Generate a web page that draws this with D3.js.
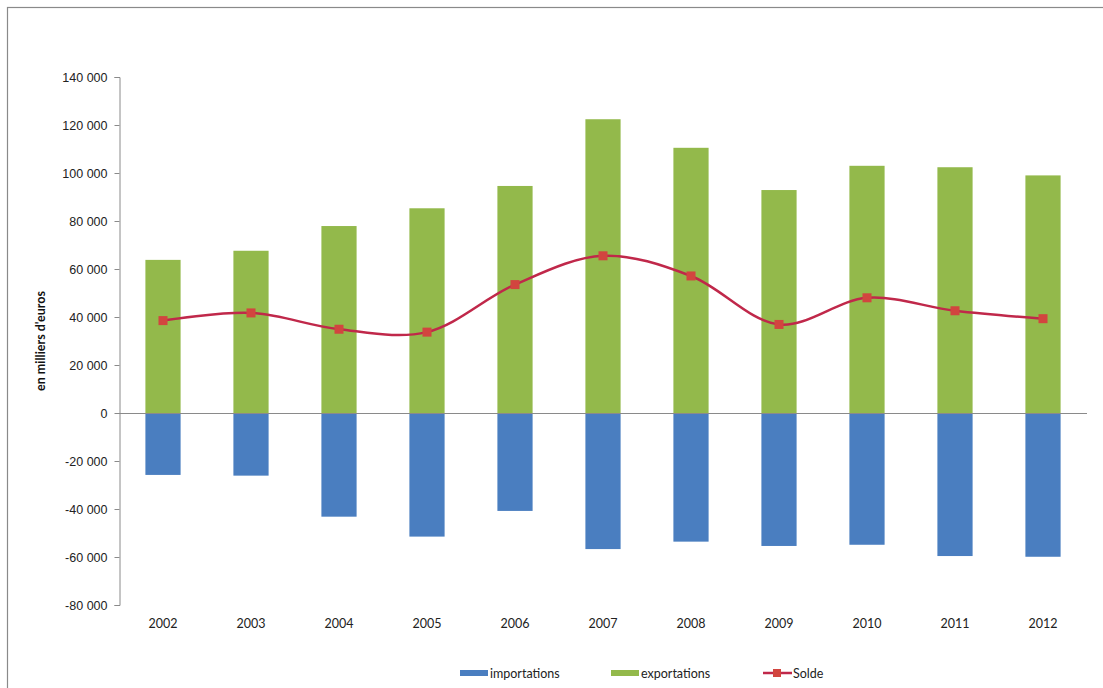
<!DOCTYPE html>
<html>
<head>
<meta charset="utf-8">
<script src="https://cdn.jsdelivr.net/npm/d3@7"></script>
<style>
  body { margin: 0; background: #fff; }
  svg { display: block; font-family: Lato, "Open Sans", sans-serif; }
</style>
</head>
<body>
<svg id="chart" width="1103" height="688"></svg>
<script>
const years = ["2002","2003","2004","2005","2006","2007","2008","2009","2010","2011","2012"];
const importations = [-25800, -26100, -43200, -51500, -40800, -56700, -53600, -55400, -54900, -59600, -59900];
const exportations = [63800, 67600, 77900, 85300, 94600, 122400, 110500, 92900, 103000, 102400, 99000];
const solde = [38500, 41700, 34900, 33700, 53500, 65500, 57100, 36900, 48000, 42600, 39300];
const yTicks = [-80000, -60000, -40000, -20000, 0, 20000, 40000, 60000, 80000, 100000, 120000, 140000];
const seriesNames = ["importations", "exportations", "Solde"];

const colors = { imp: "#4a7ec0", exp: "#93b94b", line: "#c0284a", marker: "#d2453f" };

const svg = d3.select("#chart");
const mLeft = 119, mRight = 1087, mTop = 77, mBottom = 605;

// frame
svg.append("rect").attr("x", 7.5).attr("y", 7.5).attr("width", 1110).attr("height", 700)
  .attr("fill", "#fff").attr("stroke", "#8a8a8a").attr("stroke-width", 1.2);

const x = d3.scaleBand().domain(years).range([mLeft, mRight]).paddingInner(0.6).paddingOuter(0.3);
const y = d3.scaleLinear().domain([-80000, 140000]).range([mBottom, mTop]);

const fmt = v => d3.format(",")(v).replace(/,/g, " ").replace("−", "-");

// y axis
const yAxis = d3.axisLeft(y).tickValues(yTicks).tickSize(5).tickPadding(7).tickFormat(fmt);
const gy = svg.append("g").attr("transform", `translate(${mLeft + 0.5},0)`).call(yAxis);
gy.select(".domain").attr("stroke", "#8a8a8a");
gy.selectAll(".tick line").attr("stroke", "#8a8a8a");
gy.selectAll(".tick text").attr("font-size", 12.5).attr("fill", "#222");

// y title
svg.append("text").attr("transform", `translate(45,${(mTop + mBottom) / 2}) rotate(-90)`)
  .attr("text-anchor", "middle").attr("font-size", 12.5).attr("font-weight", "bold").attr("fill", "#111")
  .text("en milliers d'euros");

// bars
svg.append("g").selectAll("rect").data(years).join("rect")
  .attr("x", d => x(d)).attr("width", x.bandwidth())
  .attr("y", (d, i) => y(exportations[i])).attr("height", (d, i) => y(0) - y(exportations[i]))
  .attr("fill", colors.exp);
svg.append("g").selectAll("rect").data(years).join("rect")
  .attr("x", d => x(d)).attr("width", x.bandwidth())
  .attr("y", y(0)).attr("height", (d, i) => y(importations[i]) - y(0))
  .attr("fill", colors.imp);

// zero line / x axis
const xAxis = d3.axisBottom(x).tickSize(0).tickPadding(0);
const gx = svg.append("g").attr("transform", `translate(0,${Math.round(y(0)) + 0.5})`).call(xAxis);
gx.select(".domain").attr("stroke", "#8a8a8a").attr("d", `M${mLeft},0H${mRight}`);
gx.selectAll(".tick text").remove();

// year labels along bottom
svg.append("g").selectAll("text").data(years).join("text")
  .attr("x", d => x(d) + x.bandwidth() / 2).attr("y", 628)
  .attr("text-anchor", "middle").attr("font-size", 12.5).attr("fill", "#222")
  .text(d => d);

// solde line
const pts = years.map((d, i) => [x(d) + x.bandwidth() / 2, y(solde[i])]);
svg.append("path").datum(pts)
  .attr("d", d3.line().curve(d3.curveCatmullRom.alpha(0.5)))
  .attr("fill", "none").attr("stroke", colors.line).attr("stroke-width", 2.5);
svg.append("g").selectAll("rect").data(pts).join("rect")
  .attr("x", d => d[0] - 4.5).attr("y", d => d[1] - 4.5).attr("width", 9).attr("height", 9)
  .attr("fill", colors.marker);

// legend
const lg = svg.append("g");
const ly = 673;
const items = [
  { name: seriesNames[0], x: 460, type: "bar", color: colors.imp },
  { name: seriesNames[1], x: 611, type: "bar", color: colors.exp },
  { name: seriesNames[2], x: 763, type: "line", color: colors.line }
];
items.forEach(it => {
  if (it.type === "bar") {
    lg.append("rect").attr("x", it.x).attr("y", ly - 3).attr("width", 28).attr("height", 6).attr("fill", it.color);
  } else {
    lg.append("line").attr("x1", it.x).attr("x2", it.x + 29).attr("y1", ly).attr("y2", ly)
      .attr("stroke", it.color).attr("stroke-width", 2.5);
    lg.append("rect").attr("x", it.x + 10).attr("y", ly - 4).attr("width", 8).attr("height", 8).attr("fill", colors.marker);
  }
  lg.append("text").attr("x", it.x + 30).attr("y", ly + 4.5).attr("font-size", 12.5).attr("fill", "#222").text(it.name);
});
</script>
</body>
</html>
